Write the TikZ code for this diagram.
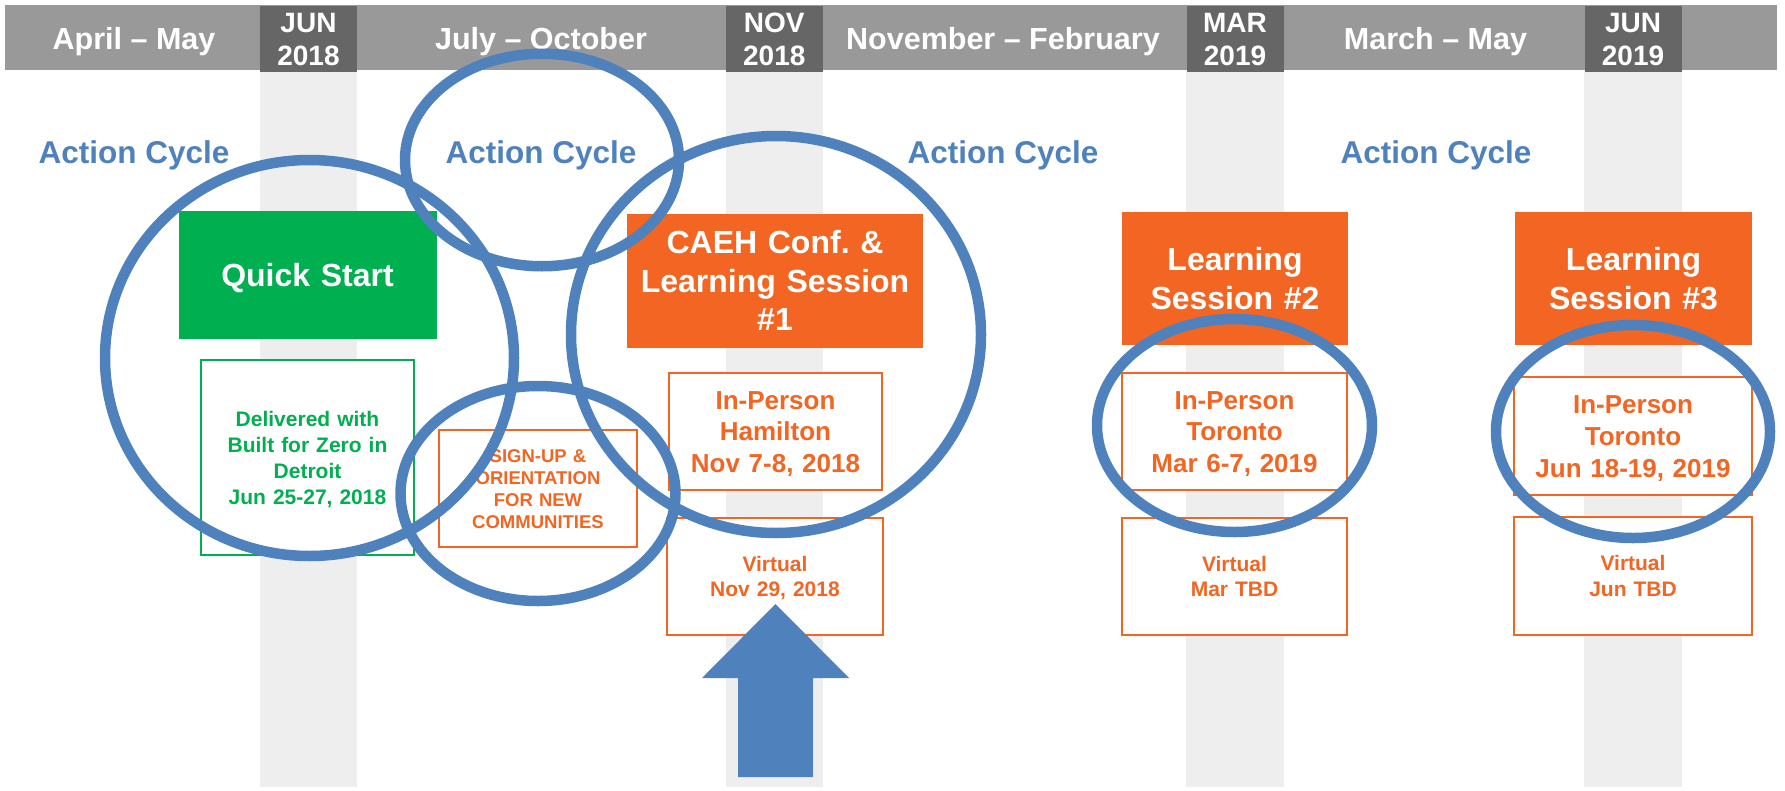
\documentclass[tikz,border=0pt]{standalone}
\usepackage{fontspec}
\setmainfont{Liberation Sans}
\usetikzlibrary{shapes.geometric}
\definecolor{hdrG}{HTML}{999999}
\definecolor{hdrD}{HTML}{666666}
\definecolor{colG}{HTML}{EEEEEE}
\definecolor{ringblue}{HTML}{4F81BD}
\definecolor{qgreen}{HTML}{00B050}
\definecolor{corange}{HTML}{F26522}
\newcommand\fsz[2]{\fontsize{#1}{#2}\selectfont\bfseries}
\frenchspacing
\tikzset{
  datebox/.style={fill=hdrD, text=white, font=\fsz{28}{33}, inner sep=0pt,
    minimum width=97pt, minimum height=66pt, text width=97pt, align=center,
    text height=20pt, text depth=33pt},
  hdrlabel/.style={text=white, font=\fsz{30.5}{36}, anchor=base, inner sep=0pt},
  actlabel/.style={text=ringblue, font=\fsz{31.5}{36}, anchor=base, inner sep=0pt},
  solidbox/.style={inner sep=0pt, align=center, text=white},
  linebox/.style={inner sep=0pt, align=center, line width=2pt, fill=white},
  ring/.style={ellipse, draw=ringblue, line width=10.5pt, inner sep=0pt}
}
\begin{document}
\begin{tikzpicture}[x=1pt,y=-1pt]
\useasboundingbox (0,0) rectangle (1785,790);
% light columns
\fill[colG] (260,71) rectangle (357,787);
\fill[colG] (725.5,71) rectangle (823,787);
\fill[colG] (1186,71) rectangle (1284,787);
\fill[colG] (1584,71) rectangle (1682,787);
% header bar
\fill[hdrG] (5,5) rectangle (1777,70);
\node[datebox] (d1) at (308.5,38.5) {JUN\\2018};
\node[datebox] (d2) at (774.25,38.5) {NOV\\2018};
\node[datebox] (d3) at (1235,38.5) {MAR\\2019};
\node[datebox] (d4) at (1633,38.5) {JUN\\2019};
\node[hdrlabel] (h1) at (134,49) {April – May};
\node[hdrlabel] (h2) at (541,49) {July – October};
\node[hdrlabel] (h3) at (1003,49) {November – February};
\node[hdrlabel] (h4) at (1435.5,49) {March – May};
% action cycle labels
\node[actlabel] (a1) at (134,163) {Action Cycle};
\node[actlabel] (a2) at (541,163) {Action Cycle};
\node[actlabel] (a3) at (1003,163) {Action Cycle};
\node[actlabel] (a4) at (1436,163) {Action Cycle};
% filled boxes
\node[solidbox, fill=qgreen, minimum width=258pt, minimum height=128pt, text width=258pt,
  font=\fsz{32}{38.5}, text height=23pt, text depth=0pt] (qs) at (307.5,275) {Quick Start};
\node[solidbox, fill=corange, minimum width=296pt, minimum height=134.5pt, text width=296pt,
  font=\fsz{32}{38.5}, text height=23pt, text depth=77pt] (caeh) at (775,280.75)
  {CAEH Conf.\ \&\\Learning Session\\\#1};
\node[solidbox, fill=corange, minimum width=226pt, minimum height=133pt, text width=226pt,
  font=\fsz{32}{38.5}, text height=23pt, text depth=38.5pt] (ls2) at (1235,278.5)
  {Learning\\Session \#2};
\node[solidbox, fill=corange, minimum width=237pt, minimum height=133pt, text width=237pt,
  font=\fsz{32}{38.5}, text height=23pt, text depth=38.5pt] (ls3) at (1633.5,278.5)
  {Learning\\Session \#3};
% outlined boxes
\node[linebox, draw=qgreen, text=qgreen, minimum width=213pt, minimum height=195pt, text width=213pt,
  font=\fsz{21}{26}, text height=15pt, text depth=78pt] (gb) at (307.5,457.5)
  {Delivered with\\Built for Zero in\\Detroit\\Jun 25-27, 2018};
\node[linebox, draw=corange, text=corange, minimum width=198pt, minimum height=117pt, text width=198pt,
  font=\fsz{18.5}{22}, text height=13.2pt, text depth=66pt] (su) at (538,488.5)
  {SIGN-UP \&\\ORIENTATION\\FOR NEW\\COMMUNITIES};
\node[linebox, draw=corange, text=corange, minimum width=213pt, minimum height=117pt, text width=213pt,
  font=\fsz{26}{31.7}, text height=18.6pt, text depth=63.4pt] (ham) at (775.5,431.5)
  {In-Person\\Hamilton\\Nov 7-8, 2018};
\node[linebox, draw=corange, text=corange, minimum width=216pt, minimum height=117pt, text width=216pt,
  font=\fsz{21}{25.6}, text height=15pt, text depth=25.6pt] (vn) at (775,576.5)
  {Virtual\\Nov 29, 2018};
\node[linebox, draw=corange, text=corange, minimum width=225pt, minimum height=117pt, text width=225pt,
  font=\fsz{26}{31.7}, text height=18.6pt, text depth=63.4pt] (tm) at (1234.5,431.5)
  {In-Person\\Toronto\\Mar 6-7, 2019};
\node[linebox, draw=corange, text=corange, minimum width=225pt, minimum height=117pt, text width=225pt,
  font=\fsz{21}{25.6}, text height=15pt, text depth=25.6pt] (vm) at (1234.5,576.5)
  {Virtual\\Mar TBD};
\node[linebox, draw=corange, text=corange, minimum width=238pt, minimum height=118pt, text width=238pt,
  font=\fsz{26}{31.7}, text height=18.6pt, text depth=63.4pt] (tj) at (1633,436)
  {In-Person\\Toronto\\Jun 18-19, 2019};
\node[linebox, draw=corange, text=corange, minimum width=238pt, minimum height=118pt, text width=238pt,
  font=\fsz{21}{25.6}, text height=15pt, text depth=25.6pt] (vj) at (1633,576)
  {Virtual\\Jun TBD};
% rings
\node[ring, minimum width=409pt, minimum height=396pt] (e1) at (309.5,358) {};
\node[ring, minimum width=274pt, minimum height=212.5pt] (e2) at (542,160) {};
\node[ring, minimum width=410pt, minimum height=397pt] (e3) at (776,334.5) {};
\node[ring, minimum width=275pt, minimum height=215pt] (e4) at (538,493.5) {};
\node[ring, minimum width=275pt, minimum height=213pt] (e5) at (1234.5,425.5) {};
\node[ring, minimum width=274pt, minimum height=213pt] (e6) at (1633,431.5) {};
% up arrow
\fill[ringblue] (775.5,604) -- (849,678) -- (813,678) -- (813,777) -- (738,777) -- (738,678) -- (702,678) -- cycle;
\end{tikzpicture}
\end{document}
